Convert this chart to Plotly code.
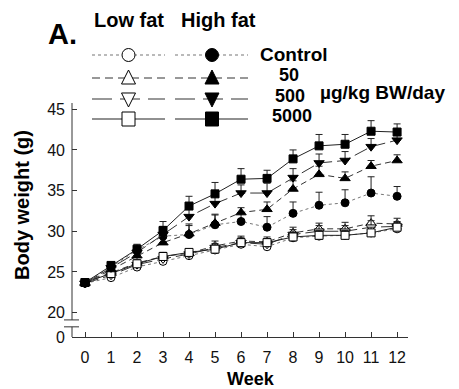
import plotly.graph_objects as go

W, H = 459, 389

weeks = list(range(13))
week_labels = [str(w) for w in weeks]

# Body weight (g)
lf_control = [23.6, 24.3, 25.6, 26.3, 27.0, 27.7, 28.4, 28.1, 29.2, 29.4, 29.5, 29.8, 30.3]
lf_50 = [23.7, 24.9, 26.1, 26.9, 27.3, 28.2, 28.8, 28.7, 29.8, 30.3, 30.3, 31.0, 30.9]
lf_500 = [23.6, 24.6, 25.9, 26.6, 27.2, 28.0, 28.6, 28.4, 29.6, 30.0, 30.0, 30.5, 30.6]
lf_5000 = [23.7, 24.8, 26.0, 26.9, 27.4, 27.8, 28.6, 28.6, 29.3, 29.5, 29.5, 29.8, 30.5]

hf_control = [23.7, 25.6, 27.7, 29.4, 29.6, 30.8, 31.2, 30.5, 32.2, 33.2, 33.5, 34.7, 34.3]
hf_50 = [23.6, 25.3, 27.0, 28.6, 29.7, 31.0, 32.3, 32.7, 35.2, 37.0, 36.5, 38.0, 38.7]
hf_500 = [23.6, 25.5, 27.4, 29.6, 31.8, 33.4, 34.7, 34.7, 36.6, 38.4, 38.7, 40.4, 41.2]
hf_5000 = [23.7, 25.8, 27.8, 30.1, 33.1, 34.6, 36.4, 36.5, 38.9, 40.5, 40.7, 42.3, 42.2]

# upper error (SEM)
lf_control_err = [0.2, 0.3, 0.3, 0.4, 0.4, 0.5, 0.6, 0.5, 0.6, 0.6, 0.6, 0.7, 0.5]
lf_50_err = [0.2, 0.3, 0.4, 0.5, 0.4, 0.6, 0.6, 0.6, 0.7, 0.7, 0.8, 0.9, 0.7]
lf_500_err = [0.2, 0.3, 0.4, 0.5, 0.4, 0.5, 0.6, 0.6, 0.6, 0.7, 0.7, 0.8, 0.6]
lf_5000_err = [0.2, 0.3, 0.4, 0.5, 0.4, 0.5, 0.5, 0.5, 0.6, 0.6, 0.6, 0.7, 0.6]

hf_control_err = [0.3, 0.4, 0.6, 0.9, 1.1, 1.3, 1.0, 1.3, 1.4, 1.6, 1.6, 2.0, 1.2]
hf_50_err = [0.3, 0.4, 0.5, 0.8, 1.2, 1.0, 0.6, 0.9, 1.0, 1.0, 0.8, 0.7, 0.7]
hf_500_err = [0.3, 0.4, 0.5, 1.0, 1.1, 1.0, 1.0, 1.2, 1.1, 1.1, 1.1, 1.0, 0.6]
hf_5000_err = [0.3, 0.4, 0.6, 1.1, 1.2, 1.4, 1.3, 1.0, 1.1, 1.4, 1.2, 1.3, 1.0]

y_tick_vals = [17.0, 20, 25, 30, 35, 40, 45]
y_tick_text = ["0", "20", "25", "30", "35", "40", "45"]

dose_labels = ["Control", "50", "500", "5000"]

FONT = "Liberation Sans, Arial, sans-serif"

DASH = {"Control": "dot", "50": "6px,4px", "500": "14px,5px", "5000": "solid"}
LEG_DASH = {"Control": "dot", "50": "8px,5px", "500": "20px,8px", "5000": "solid"}
LINECOL = {"Control": "#777", "50": "#333", "500": "#333", "5000": "#222"}
SYM = {"Control": "circle", "50": "triangle-up", "500": "triangle-down", "5000": "square"}
MSIZE = {"Control": 8, "50": 9, "500": 9, "5000": 8}

fig = go.Figure()

series = [
    ("Low fat", "Control", lf_control, lf_control_err, False),
    ("Low fat", "50", lf_50, lf_50_err, False),
    ("Low fat", "500", lf_500, lf_500_err, False),
    ("Low fat", "5000", lf_5000, lf_5000_err, False),
    ("High fat", "Control", hf_control, hf_control_err, True),
    ("High fat", "50", hf_50, hf_50_err, True),
    ("High fat", "500", hf_500, hf_500_err, True),
    ("High fat", "5000", hf_5000, hf_5000_err, True),
]

for diet, dose, vals, err, filled in series:
    fig.add_trace(go.Scatter(
        x=weeks, y=vals, mode="lines+markers", name=f"{diet} {dose}",
        showlegend=False,
        line=dict(color=LINECOL[dose], width=1, dash=DASH[dose]),
        marker=dict(symbol=SYM[dose], size=MSIZE[dose],
                    color="black" if filled else "white",
                    line=dict(color="black", width=1)),
        error_y=dict(type="data", array=err, arrayminus=[0] * len(err),
                     symmetric=False, color="#222", thickness=1, width=3.5),
        cliponaxis=False,
    ))

X0, X1, YT, YB = 72, 408, 103, 337

def px(x):
    return x / W

def py(y):
    return 1 - y / H

fig.update_layout(
    width=W, height=H, margin=dict(l=0, r=0, t=0, b=0, autoexpand=False),
    paper_bgcolor="white", plot_bgcolor="white",
    font=dict(family=FONT, color="#111", size=16),
    xaxis=dict(domain=[px(X0), px(X1)], range=[-0.5, 12.42],
               tickvals=weeks, ticktext=week_labels, automargin=False,
               ticks="inside", ticklen=5, tickcolor="#333",
               showline=True, linecolor="#333", linewidth=1,
               showgrid=False, zeroline=False, ticklabelstandoff=6,
               tickfont=dict(size=16, family=FONT, color="#111")),
    yaxis=dict(domain=[py(YB), py(YT)], range=[17.0, 45.77],
               tickvals=y_tick_vals, ticktext=y_tick_text, automargin=False,
               ticks="inside", ticklen=5, tickcolor="#333",
               showline=False, showgrid=False, zeroline=False,
               ticklabelstandoff=6,
               tickfont=dict(size=16, family=FONT, color="#111")),
)

shapes = []
# y axis line with a break
shapes.append(dict(type="line", xref="paper", yref="y", x0=px(X0), x1=px(X0),
                   y0=17.0, y1=18.25, line=dict(color="#333", width=1)))
shapes.append(dict(type="line", xref="paper", yref="y", x0=px(X0), x1=px(X0),
                   y0=19.1, y1=45.77, line=dict(color="#333", width=1)))
for yb in (19.1, 18.25):
    shapes.append(dict(type="line", xref="paper", yref="y", x0=px(64), x1=px(79),
                       y0=yb, y1=yb, line=dict(color="#333", width=1)))

# custom legend keys
rows_y = {"Control": 55, "50": 78, "500": 99, "5000": 119}
cols = [("Low fat", 92, 165, 128.5, False), ("High fat", 175, 248, 212, True)]
for dose in dose_labels:
    ry = rows_y[dose]
    for diet, lx0, lx1, mx, filled in cols:
        shapes.append(dict(type="line", xref="paper", yref="paper",
                           x0=px(lx0), x1=px(lx1), y0=py(ry), y1=py(ry),
                           line=dict(color=LINECOL[dose], width=1.2, dash=LEG_DASH[dose])))
for dose in dose_labels:
    ry = rows_y[dose]
    for diet, lx0, lx1, mx, filled in cols:
        fc = "black" if filled else "white"
        ln = dict(color="black", width=1)
        r = 6.5
        if dose == "Control":
            shapes.append(dict(type="circle", xref="paper", yref="paper",
                               x0=px(mx - r), x1=px(mx + r), y0=py(ry + r), y1=py(ry - r),
                               fillcolor=fc, line=ln))
        elif dose == "5000":
            shapes.append(dict(type="rect", xref="paper", yref="paper",
                               x0=px(mx - 6.5), x1=px(mx + 6.5), y0=py(ry + 7), y1=py(ry - 7),
                               fillcolor=fc, line=ln))
        else:
            if dose == "50":
                pts = [(mx, ry - 8), (mx - 7, ry + 6), (mx + 7, ry + 6)]
            else:
                pts = [(mx, ry + 8), (mx - 7, ry - 6), (mx + 7, ry - 6)]
            path = "M " + " L ".join(f"{px(a):.5f},{py(b):.5f}" for a, b in pts) + " Z"
            shapes.append(dict(type="path", xref="paper", yref="paper", path=path,
                               fillcolor=fc, line=ln))
fig.update_layout(shapes=shapes)

ann = []
def text(t, x, y, size, xanchor="center", angle=0, yanchor="middle"):
    ann.append(dict(text=f"<b>{t}</b>", x=px(x), y=py(y), xref="paper", yref="paper",
                    showarrow=False, xanchor=xanchor, yanchor=yanchor, textangle=angle,
                    borderpad=0,
                    font=dict(family=FONT, size=size, color="black")))

text("A.", 62, 34, 29)
text("Low fat", 129, 20, 20)
text("High fat", 218, 20, 20)
text("Control", 259, 54, 19, xanchor="left")
text("50", 289, 75, 18)
text("500", 290, 95.5, 18)
text("5000", 292, 116, 18)
text("µg/kg BW/day", 319, 92, 19, xanchor="left")
text("Body weight (g)", 22, 205, 20, angle=-90)
text("Week", 251, 379, 18)
fig.update_layout(annotations=ann)

fig.write_html("out.html")
